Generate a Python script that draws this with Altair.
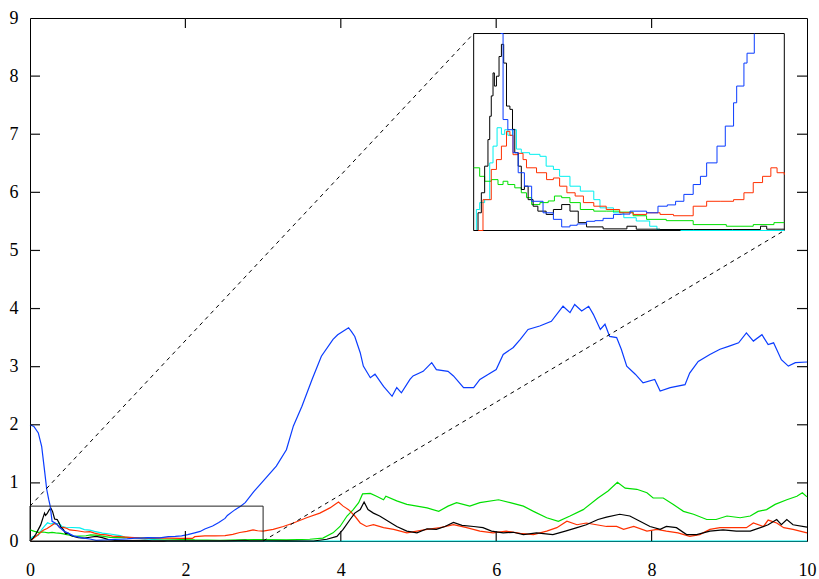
import altair as alt
import pandas as pd

# ---------------- data ----------------
blue_x = [0, 0.05, 0.107, 0.15, 0.19, 0.215, 0.24, 0.26, 0.284, 0.33, 0.38, 0.43, 0.49, 0.56, 0.67, 0.77, 0.85,
          0.93, 1.0, 1.09, 1.17, 1.25, 1.35, 1.43, 1.51, 1.67, 1.78, 1.87, 1.95, 2.03, 2.12, 2.19, 2.25, 2.35,
          2.43, 2.51, 2.54, 2.61, 2.64, 2.71, 2.77, 2.88, 3.0, 3.17, 3.3, 3.39, 3.5, 3.63, 3.75, 3.9, 3.96,
          4.03, 4.1, 4.14, 4.18, 4.25, 4.29, 4.38, 4.44, 4.55, 4.66, 4.72, 4.78, 4.89, 4.93, 5.06, 5.17, 5.23,
          5.38, 5.45, 5.58, 5.71, 5.79, 5.9, 6.0, 6.09, 6.22, 6.31, 6.41, 6.56, 6.71, 6.86, 6.95, 7.01, 7.1,
          7.19, 7.25, 7.34, 7.4, 7.46, 7.55, 7.61, 7.68, 7.79, 7.89, 8.04, 8.11, 8.24, 8.43, 8.49, 8.6, 8.75,
          8.88, 8.99, 9.12, 9.22, 9.31, 9.42, 9.5, 9.57, 9.67, 9.76, 9.85, 10.0]
blue_y = [2.0, 1.97, 1.86, 1.63, 1.18, 0.89, 0.72, 0.6, 0.338, 0.307, 0.237, 0.176, 0.135, 0.089, 0.054, 0.034,
          0.011, 0.016, 0.02, 0.028, 0.03, 0.037, 0.049, 0.05, 0.059, 0.054, 0.074, 0.078, 0.089, 0.11, 0.14,
          0.165, 0.206, 0.257, 0.318, 0.389, 0.44, 0.51, 0.54, 0.6, 0.66, 0.85, 1.03, 1.29, 1.57, 1.98, 2.32,
          2.78, 3.18, 3.47, 3.55, 3.61, 3.67, 3.6, 3.52, 3.24, 3.01, 2.81, 2.87, 2.66, 2.49, 2.64, 2.55, 2.78,
          2.84, 2.92, 3.07, 2.95, 2.92, 2.84, 2.64, 2.64, 2.78, 2.87, 2.95, 3.21, 3.33, 3.47, 3.64, 3.7, 3.78,
          4.04, 3.93, 4.07, 3.96, 4.04, 3.9, 3.64, 3.73, 3.52, 3.5, 3.3, 3.01, 2.87, 2.72, 2.78, 2.58, 2.64,
          2.69, 2.89, 3.09, 3.21, 3.3, 3.35, 3.41, 3.58, 3.44, 3.55, 3.38, 3.41, 3.12, 3.01, 3.07, 3.08]

black_x = [0, 0.042, 0.074, 0.106, 0.138, 0.155, 0.17, 0.187, 0.2, 0.22, 0.245, 0.268, 0.29, 0.317, 0.35, 0.375,
           0.397, 0.43, 0.46, 0.49, 0.526, 0.574, 0.62, 0.7, 0.77, 0.85, 0.93, 1.01, 1.09, 1.25, 1.48, 1.57,
           1.8, 2.12, 2.5, 2.77, 2.83, 3.0, 3.3, 3.65, 3.82, 3.95, 4.03, 4.12, 4.18, 4.25, 4.3, 4.35, 4.42, 4.5,
           4.61, 4.72, 4.85, 4.98, 5.11, 5.23, 5.34, 5.45, 5.56, 5.71, 5.83, 5.94, 6.09, 6.22, 6.35, 6.52, 6.73,
           6.89, 7.04, 7.16, 7.31, 7.42, 7.59, 7.72, 7.85, 7.98, 8.11, 8.19, 8.32, 8.45, 8.58, 8.75, 8.92, 9.09,
           9.27, 9.4, 9.5, 9.61, 9.67, 9.74, 9.82, 10.0]
black_y = [0, 0.054, 0.115, 0.196, 0.277, 0.348, 0.41, 0.48, 0.44, 0.47, 0.53, 0.567, 0.51, 0.379, 0.369, 0.308,
           0.237, 0.196, 0.125, 0.135, 0.094, 0.074, 0.059, 0.049, 0.064, 0.079, 0.059, 0.024, 0.011, 0.005,
           0.013, 0.004, 0.003, 0.003, 0.003, 0.013, 0.004, 0.004, 0.002, 0.0, 0.03, 0.08, 0.2, 0.37, 0.48,
           0.54, 0.67, 0.54, 0.48, 0.43, 0.34, 0.25, 0.17, 0.14, 0.21, 0.2, 0.25, 0.32, 0.27, 0.25, 0.23, 0.17,
           0.14, 0.15, 0.11, 0.14, 0.11, 0.17, 0.23, 0.28, 0.37, 0.41, 0.46, 0.43, 0.34, 0.25, 0.2, 0.25, 0.23,
           0.11, 0.11, 0.17, 0.19, 0.17, 0.17, 0.23, 0.28, 0.37, 0.28, 0.37, 0.28, 0.24]

green_x = [0, 0.058, 0.106, 0.17, 0.235, 0.284, 0.33, 0.397, 0.46, 0.51, 0.56, 0.64, 0.72, 0.78, 0.85, 0.93, 1.03,
           1.16, 1.28, 1.41, 1.54, 1.67, 1.86, 2.12, 2.44, 2.7, 2.9, 3.0, 3.3, 3.6, 3.77, 3.9, 3.99, 4.08, 4.16,
           4.23, 4.28, 4.38, 4.46, 4.55, 4.58, 4.72, 4.85, 4.98, 5.11, 5.26, 5.38, 5.49, 5.66, 5.79, 6.03, 6.18,
           6.35, 6.48, 6.65, 6.8, 6.95, 7.12, 7.31, 7.44, 7.56, 7.66, 7.81, 7.94, 8.02, 8.15, 8.28, 8.41, 8.54,
           8.71, 8.83, 8.97, 9.14, 9.27, 9.37, 9.48, 9.59, 9.74, 9.87, 9.94, 10.0]
green_y = [0.191, 0.165, 0.15, 0.155, 0.14, 0.15, 0.14, 0.13, 0.115, 0.1, 0.079, 0.085, 0.09, 0.105, 0.1, 0.085,
           0.064, 0.059, 0.059, 0.056, 0.045, 0.034, 0.03, 0.018, 0.013, 0.018, 0.024, 0.024, 0.02, 0.03, 0.05,
           0.14, 0.25, 0.43, 0.54, 0.66, 0.81, 0.82, 0.77, 0.71, 0.77, 0.69, 0.63, 0.6, 0.57, 0.51, 0.6, 0.66,
           0.6, 0.66, 0.71, 0.66, 0.6, 0.51, 0.4, 0.34, 0.43, 0.54, 0.74, 0.86, 1.01, 0.91, 0.89, 0.83, 0.74,
           0.74, 0.63, 0.51, 0.46, 0.37, 0.37, 0.43, 0.4, 0.43, 0.51, 0.54, 0.63, 0.71, 0.77, 0.83, 0.76]

red_x = [0, 0.09, 0.17, 0.22, 0.268, 0.317, 0.35, 0.38, 0.43, 0.477, 0.51, 0.607, 0.704, 0.77, 0.83, 0.9, 0.98,
         1.06, 1.16, 1.28, 1.41, 1.54, 1.67, 1.8, 1.93, 2.09, 2.12, 2.25, 2.38, 2.51, 2.61, 2.7, 2.79, 2.87,
         2.93, 3.0, 3.13, 3.26, 3.39, 3.56, 3.73, 3.86, 3.97, 4.03, 4.1, 4.18, 4.25, 4.33, 4.42, 4.55, 4.68,
         4.85, 4.98, 5.11, 5.28, 5.45, 5.62, 5.79, 5.96, 6.13, 6.31, 6.48, 6.65, 6.78, 6.91, 7.04, 7.16, 7.29,
         7.42, 7.55, 7.64, 7.77, 7.94, 8.07, 8.19, 8.34, 8.49, 8.62, 8.75, 8.88, 9.05, 9.22, 9.31, 9.44, 9.5,
         9.61, 9.7, 9.82, 10.0]
red_y = [0, 0.094, 0.186, 0.216, 0.257, 0.302, 0.29, 0.231, 0.235, 0.216, 0.191, 0.176, 0.155, 0.16, 0.135, 0.115,
         0.105, 0.085, 0.074, 0.064, 0.054, 0.049, 0.054, 0.049, 0.045, 0.045, 0.074, 0.089, 0.089, 0.094, 0.115,
         0.146, 0.165, 0.191, 0.176, 0.17, 0.2, 0.25, 0.31, 0.4, 0.48, 0.57, 0.67, 0.6, 0.54, 0.43, 0.31, 0.25,
         0.28, 0.23, 0.2, 0.14, 0.17, 0.2, 0.23, 0.28, 0.23, 0.17, 0.14, 0.17, 0.13, 0.11, 0.17, 0.23, 0.34,
         0.28, 0.31, 0.28, 0.25, 0.25, 0.2, 0.25, 0.17, 0.2, 0.17, 0.14, 0.08, 0.11, 0.2, 0.23, 0.23, 0.23,
         0.31, 0.25, 0.36, 0.31, 0.23, 0.2, 0.14]

cyan_x = [0, 0.026, 0.058, 0.106, 0.155, 0.187, 0.226, 0.268, 0.3, 0.33, 0.375, 0.413, 0.46, 0.54, 0.64, 0.7,
          0.77, 0.83, 0.93, 1.03, 1.16, 1.22, 1.35, 1.45, 1.57, 1.7, 1.77, 2.0, 3.0, 10.0]
cyan_y = [0, 0.064, 0.085, 0.094, 0.206, 0.257, 0.313, 0.293, 0.307, 0.29, 0.307, 0.248, 0.237, 0.232, 0.226,
          0.196, 0.186, 0.165, 0.135, 0.12, 0.094, 0.069, 0.054, 0.039, 0.029, 0.013, 0.003, 0.0, 0.0, 0.0]

series_names = ["cyan", "green", "red", "black", "blue"]
series_colors = ["#00f0f0", "#00e000", "#ff3000", "#000000", "#0a3cff"]
series_data = {"cyan": (cyan_x, cyan_y), "green": (green_x, green_y), "red": (red_x, red_y),
               "black": (black_x, black_y), "blue": (blue_x, blue_y)}

x_labels = [0, 2, 4, 6, 8, 10]
y_labels = [0, 1, 2, 3, 4, 5, 6, 7, 8, 9]
x_ticks = [2, 4, 6, 8]
y_ticks = [1, 2, 3, 4, 5, 6, 7, 8]

x_domain = [0, 10]
y_domain = [0, 9]

# zoomed region and where the inset sits (data coordinates of the main plot)
zoom_x = [0, 3]
zoom_y = [0, 0.6]
inset_x = [5.71, 9.708]
inset_y = [5.343, 8.733]

rows = []
for k, name in enumerate(series_names):
    xs, ys = series_data[name]
    for i, (xv, yv) in enumerate(zip(xs, ys)):
        rows.append({"series": name, "x": xv, "y": yv, "k": k, "i": i})
df = pd.DataFrame(rows)

sx = (inset_x[1] - inset_x[0]) / (zoom_x[1] - zoom_x[0])
sy = (inset_y[1] - inset_y[0]) / (zoom_y[1] - zoom_y[0])

W, H = 777, 523
TICK = 10  # tick length in pixels, drawn inward
FONT = "Liberation Serif"
xs_scale = alt.Scale(domain=x_domain, nice=False, zero=False)
ys_scale = alt.Scale(domain=y_domain, nice=False, zero=False)
color = alt.Color("series:N", scale=alt.Scale(domain=series_names, range=series_colors), legend=None)


def label_axis(orient, values, pad):
    return alt.Axis(orient=orient, values=values, tickSize=0, domain=False, grid=False, title=None,
                    labelPadding=pad, labelFont=FONT, labelFontSize=18, labelColor="black",
                    labelFlush=False, format="d")


main = alt.Chart(df).mark_line(strokeWidth=1.2).encode(
    x=alt.X("x:Q", scale=xs_scale, axis=label_axis("bottom", x_labels, 20)),
    y=alt.Y("y:Q", scale=ys_scale, axis=label_axis("left", y_labels, 12)),
    color=color,
    detail="series:N",
    order="i:Q",
)

# inward tick marks on all four sides, as thin filled rectangles (sizes converted to data units)
tx = TICK * (x_domain[1] - x_domain[0]) / W
ty = TICK * (y_domain[1] - y_domain[0]) / H
hw_x = 0.6 * (x_domain[1] - x_domain[0]) / W   # half tick thickness, x units
hw_y = 0.6 * (y_domain[1] - y_domain[0]) / H   # half tick thickness, y units
tick_rows = []
for v in x_ticks:
    tick_rows.append({"tx0": v - hw_x, "tx1": v + hw_x, "ty0": y_domain[0], "ty1": y_domain[0] + ty})
    tick_rows.append({"tx0": v - hw_x, "tx1": v + hw_x, "ty0": y_domain[1] - ty, "ty1": y_domain[1]})
for v in y_ticks:
    tick_rows.append({"tx0": x_domain[0], "tx1": x_domain[0] + tx, "ty0": v - hw_y, "ty1": v + hw_y})
    tick_rows.append({"tx0": x_domain[1] - tx, "tx1": x_domain[1], "ty0": v - hw_y, "ty1": v + hw_y})
ticks = alt.Chart(pd.DataFrame(tick_rows)).mark_rect(color="#111111", opacity=1).encode(
    x=alt.X("tx0:Q", scale=xs_scale, axis=None),
    x2="tx1:Q",
    y=alt.Y("ty0:Q", scale=ys_scale, axis=None),
    y2="ty1:Q",
)

zoom_df = pd.DataFrame({"x0": [zoom_x[0]], "x1": [zoom_x[1]], "y0": [zoom_y[0]], "y1": [zoom_y[1]]})
zoom_box = alt.Chart(zoom_df).mark_rect(fillOpacity=0, stroke="#222222", strokeWidth=1).encode(
    x=alt.X("x0:Q", scale=xs_scale, axis=None),
    x2="x1:Q",
    y=alt.Y("y0:Q", scale=ys_scale, axis=None),
    y2="y1:Q",
)

link_df = pd.DataFrame({
    "x0": [zoom_x[0], zoom_x[1]], "y0": [zoom_y[1], zoom_y[0]],
    "x1": [inset_x[0], inset_x[1]], "y1": [inset_y[1], inset_y[0]],
})
links = alt.Chart(link_df).mark_rule(color="black", strokeWidth=1, strokeDash=[4, 4]).encode(
    x=alt.X("x0:Q", scale=xs_scale, axis=None),
    x2="x1:Q",
    y=alt.Y("y0:Q", scale=ys_scale, axis=None),
    y2="y1:Q",
)

inset_df = pd.DataFrame({"x0": [inset_x[0]], "x1": [inset_x[1]], "y0": [inset_y[0]], "y1": [inset_y[1]]})
inset_box = alt.Chart(inset_df).mark_rect(fill="white", stroke="black", strokeWidth=1).encode(
    x=alt.X("x0:Q", scale=xs_scale, axis=None),
    x2="x1:Q",
    y=alt.Y("y0:Q", scale=ys_scale, axis=None),
    y2="y1:Q",
)

inset_lines = alt.Chart(df).transform_filter(
    f"datum.x <= {zoom_x[1]} && datum.y <= {zoom_y[1]}"
).transform_calculate(
    ix=f"{inset_x[0]} + (datum.x - {zoom_x[0]}) * {sx}",
    iy=f"{inset_y[0]} + (datum.y - {zoom_y[0]}) * {sy}",
).mark_line(strokeWidth=1, interpolate="step-after").encode(
    x=alt.X("ix:Q", scale=xs_scale, axis=None),
    y=alt.Y("iy:Q", scale=ys_scale, axis=None),
    color=color,
    detail="series:N",
    order="i:Q",
)

chart = alt.layer(main, zoom_box, links, inset_box, inset_lines, ticks).resolve_axis(
    x="independent", y="independent"
).properties(
    width=W, height=H,
    padding={"left": 30, "top": 18, "right": 12, "bottom": 38},
    autosize=alt.AutoSizeParams(type="none"),
    background="white",
).configure_view(stroke="black", strokeWidth=1)

chart.save("out.html", embed_options={"renderer": "svg", "actions": False})
